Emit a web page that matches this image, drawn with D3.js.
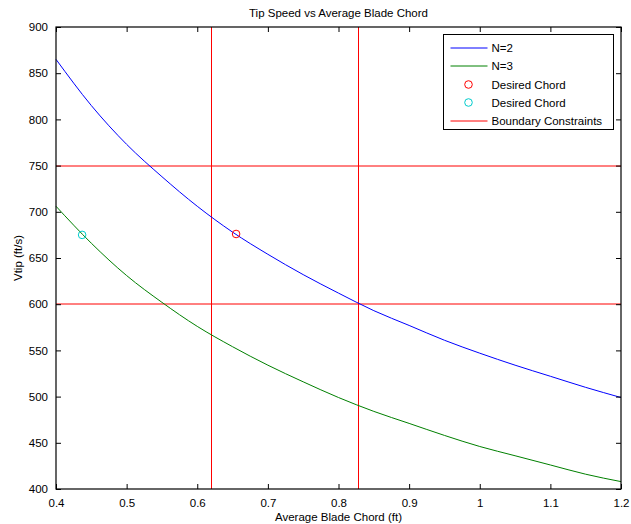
<!DOCTYPE html>
<html>
<head>
<meta charset="utf-8">
<script src="https://cdn.jsdelivr.net/npm/d3@7"></script>
<style>
  body { margin: 0; background: #fff; }
  svg { font-family: "Liberation Sans", Arial, sans-serif; }
</style>
</head>
<body>
<svg id="chart" width="631" height="524"></svg>
<script>
// values
const chord = [0.40, 0.45, 0.50, 0.55, 0.60, 0.65, 0.70, 0.75, 0.80, 0.85, 0.90, 0.95, 1.00, 1.05, 1.10, 1.15, 1.20];
const vtipN2 = [865, 815, 773, 738, 706, 678, 654, 632, 612, 593, 577, 561, 547, 534, 522, 510, 499];
const vtipN3 = [706, 666, 631, 602, 576, 554, 534, 516, 499, 484, 471, 458, 446, 436, 426, 416, 408];
const desiredN2 = [{c: 0.655, v: 676}];
const desiredN3 = [{c: 0.437, v: 675}];
const chordLimits = [0.62, 0.827];
const speedLimits = [600, 750];
const xTicks = [0.4, 0.5, 0.6, 0.7, 0.8, 0.9, 1.0, 1.1, 1.2];
const yTicks = [400, 450, 500, 550, 600, 650, 700, 750, 800, 850, 900];
const legendItems = [
    {label: 'N=2', type: 'line', colour: '#0000ff'},
    {label: 'N=3', type: 'line', colour: '#008000'},
    {label: 'Desired Chord', type: 'circle', colour: '#ff0000'},
    {label: 'Desired Chord', type: 'circle', colour: '#00cccc'},
    {label: 'Boundary Constraints', type: 'line', colour: '#ff0000'}
];

const margin = {left: 56, right: 10, top: 27, bottom: 35};
const width = 631, height = 524;

const svg = d3.select('#chart');

const x = d3.scaleLinear().domain([0.4, 1.2]).range([margin.left, width - margin.right]);
const y = d3.scaleLinear().domain([400, 900]).range([height - margin.bottom, margin.top]);

const fmt = d => String(+d.toFixed(1));
const px = v => Math.round(v) + 0.5;

// constraint lines
svg.append('g')
    .selectAll('line.vlim')
        .data(chordLimits)
    .enter()
    .append('line')
        .attr('x1', d => px(x(d))).attr('x2', d => px(x(d)))
        .attr('y1', y(400)).attr('y2', y(900))
        .attr('stroke', '#ff0000')
        .attr('stroke-width', 1);

svg.append('g')
    .selectAll('line.hlim')
        .data(speedLimits)
    .enter()
    .append('line')
        .attr('x1', x(0.4)).attr('x2', x(1.2))
        .attr('y1', d => Math.round(y(d))).attr('y2', d => Math.round(y(d)))
        .attr('stroke', '#ff0000')
        .attr('stroke-width', 1);

// curves
const lineGen = vals => d3.line()
    .x((d, i) => x(chord[i]))
    .y(d => y(d))
    .curve(d3.curveMonotoneX)(vals);

svg.append('path')
    .attr('d', lineGen(vtipN2))
    .attr('fill', 'none')
    .attr('stroke', '#0000ff')
    .attr('stroke-width', 1);

svg.append('path')
    .attr('d', lineGen(vtipN3))
    .attr('fill', 'none')
    .attr('stroke', '#008000')
    .attr('stroke-width', 1);

// desired points
svg.selectAll('circle.n2')
    .data(desiredN2)
    .enter()
    .append('circle')
        .attr('cx', d => x(d.c)).attr('cy', d => y(d.v))
        .attr('r', 3.8)
        .attr('fill', 'none')
        .attr('stroke', '#ff0000');

svg.selectAll('circle.n3')
    .data(desiredN3)
    .enter()
    .append('circle')
        .attr('cx', d => x(d.c)).attr('cy', d => y(d.v))
        .attr('r', 3.8)
        .attr('fill', 'none')
        .attr('stroke', '#00cccc');

// axes, MATLAB style: ticks inward on all sides
const tickLen = 5;
const axisStyle = g => {
    g.selectAll('.domain').remove();
    g.selectAll('.tick line').attr('stroke', '#000');
    g.selectAll('.tick text').attr('fill', '#000').style('font-size', '11.5px');
};

svg.append('g')
    .attr('transform', `translate(0,${y(400)})`)
    .call(d3.axisBottom(x).tickValues(xTicks).tickFormat(fmt).tickSizeInner(-tickLen).tickPadding(10))
    .call(axisStyle);

svg.append('g')
    .attr('transform', `translate(0,${y(900)})`)
    .call(d3.axisTop(x).tickValues(xTicks).tickFormat('').tickSizeInner(-tickLen))
    .call(axisStyle);

svg.append('g')
    .attr('transform', `translate(${x(0.4)},0)`)
    .call(d3.axisLeft(y).tickValues(yTicks).tickSizeInner(-tickLen).tickPadding(8))
    .call(axisStyle);

svg.append('g')
    .attr('transform', `translate(${x(1.2)},0)`)
    .call(d3.axisRight(y).tickValues(yTicks).tickFormat('').tickSizeInner(-tickLen))
    .call(axisStyle);

svg.append('rect')
    .attr('x', x(0.4)).attr('y', y(900))
    .attr('width', x(1.2) - x(0.4)).attr('height', y(400) - y(900))
    .attr('fill', 'none')
    .attr('stroke', '#000')
    .attr('stroke-width', 1.2);

// titles
svg.append('text')
    .attr('x', (x(0.4) + x(1.2)) / 2).attr('y', 17)
    .attr('text-anchor', 'middle')
    .style('font-size', '11.5px')
    .text('Tip Speed vs Average Blade Chord');

svg.append('text')
    .attr('x', (x(0.4) + x(1.2)) / 2).attr('y', 521)
    .attr('text-anchor', 'middle')
    .style('font-size', '11.5px')
    .text('Average Blade Chord (ft)');

svg.append('text')
    .attr('transform', `translate(22,${(y(400) + y(900)) / 2}) rotate(-90)`)
    .attr('text-anchor', 'middle')
    .style('font-size', '11.5px')
    .text('Vtip (ft/s)');

// legend
const legend = svg.append('g').attr('transform', 'translate(443.5,34.5)');
legend.append('rect')
    .attr('width', 170).attr('height', 95)
    .attr('fill', '#fff')
    .attr('stroke', '#000')
    .attr('stroke-width', 1);

const rows = legend.selectAll('.legend__row')
    .data(legendItems)
    .enter()
    .append('g')
        .attr('transform', (d, i) => `translate(0,${Math.round(13 + i * 18.3)})`);

rows.filter(d => d.type === 'line')
    .append('line')
        .attr('x1', 7).attr('x2', 44)
        .attr('y1', 0.5).attr('y2', 0.5)
        .attr('stroke', d => d.colour)
        .attr('stroke-width', 1);

rows.filter(d => d.type === 'circle')
    .append('circle')
        .attr('cx', 25).attr('r', 3.8)
        .attr('fill', 'none')
        .attr('stroke', d => d.colour);

rows.append('text')
    .attr('x', 48)
    .attr('dy', '0.35em')
    .style('font-size', '11.5px')
    .text(d => d.label);
</script>
</body>
</html>
